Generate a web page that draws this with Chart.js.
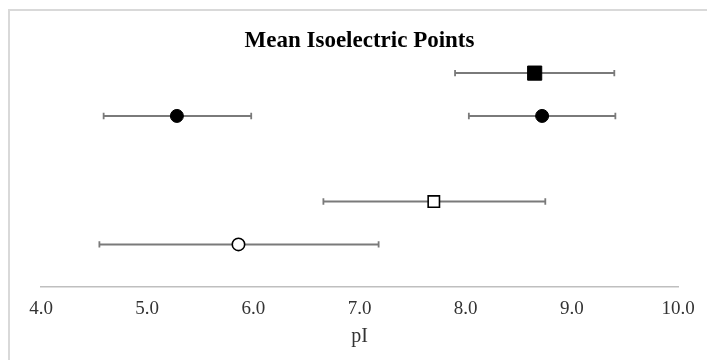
<!DOCTYPE html>
<html>
<head>
<meta charset="utf-8">
<script src="https://cdn.jsdelivr.net/npm/chart.js@4.4.0/dist/chart.umd.min.js"></script>
<style>
  html, body { margin: 0; padding: 0; background: #ffffff; }
  #wrap { position: relative; width: 707px; height: 360px; }
  #frame { position: absolute; left: 8px; top: 9px; right: 0; bottom: 0;
           border-top: 2px solid #d9d9d9; border-left: 2px solid #d9d9d9; pointer-events: none; }
  canvas { position: absolute; left: 0; top: 0; }
</style>
</head>
<body>
<div id="wrap">
  <canvas id="c" width="707" height="360"></canvas>
  <div id="frame"></div>
</div>
<script>
// ---- data ----
const rows   = [5, 4, 4, 2, 1];              // vertical row position of each group
const means  = [8.65, 5.28, 8.72, 7.70, 5.86];
const lower  = [7.90, 4.59, 8.03, 6.66, 4.55];
const upper  = [9.40, 5.98, 9.41, 8.75, 7.18];
const markerShapes = ['rect', 'circle', 'circle', 'rect', 'circle'];
const markerFilled = [true, true, true, false, false];
const xTicks = [4, 5, 6, 7, 8, 9, 10];

const serif = "'Liberation Serif', 'Times New Roman', serif";

const errorBarSets = rows.map((r, i) => ({
  type: 'line',
  data: [{x: lower[i], y: r}, {x: upper[i], y: r}],
  showLine: true,
  borderColor: '#7a7a7a',
  borderWidth: 2,
  pointStyle: 'line',
  rotation: 90,
  pointRadius: 3.2,
  pointBorderColor: '#7a7a7a',
  pointBorderWidth: 1.8,
  pointHoverRadius: 3.2,
  order: 2
}));

const markerSet = {
  type: 'scatter',
  data: rows.map((r, i) => ({x: means[i], y: r})),
  pointStyle: markerShapes,
  pointRadius: markerShapes.map((s, i) => s === 'rect' ? (markerFilled[i] ? 10 : 8) : (markerFilled[i] ? 6.5 : 6.2)),
  pointBackgroundColor: markerFilled.map(f => f ? '#000000' : '#ffffff'),
  pointBorderColor: '#000000',
  pointBorderWidth: markerFilled.map(f => f ? 1 : 1.6),
  order: 0
};

new Chart(document.getElementById('c'), {
  data: { datasets: [markerSet, ...errorBarSets] },
  options: {
    responsive: false,
    animation: false,
    events: [],
    layout: { padding: { left: 41, right: 29, top: 10, bottom: 14 } },
    plugins: {
      legend: { display: false },
      tooltip: { enabled: false },
      title: {
        display: true,
        text: 'Mean Isoelectric Points',
        color: '#000000',
        font: { family: serif, size: 23, weight: 'bold', lineHeight: 0.9 },
        padding: { top: 21, bottom: 0 }
      }
    },
    scales: {
      x: {
        type: 'linear',
        min: 4, max: 10,
        afterBuildTicks: axis => { axis.ticks = xTicks.map(v => ({value: v})); },
        ticks: {
          color: '#333333',
          font: { family: serif, size: 19, lineHeight: 1.2 },
          padding: 10,
          maxRotation: 0,
          callback: v => Number(v).toFixed(1)
        },
        grid: { display: false, drawTicks: false },
        border: { display: true, color: '#bfbfbf', width: 1.5 },
        title: {
          display: true,
          text: 'pI',
          color: '#333333',
          font: { family: serif, size: 20, lineHeight: 0.7 },
          padding: { top: 0, bottom: 2 }
        }
      },
      y: {
        type: 'linear',
        display: false,
        min: 0, max: 5.5
      }
    }
  }
});
</script>
</body>
</html>
